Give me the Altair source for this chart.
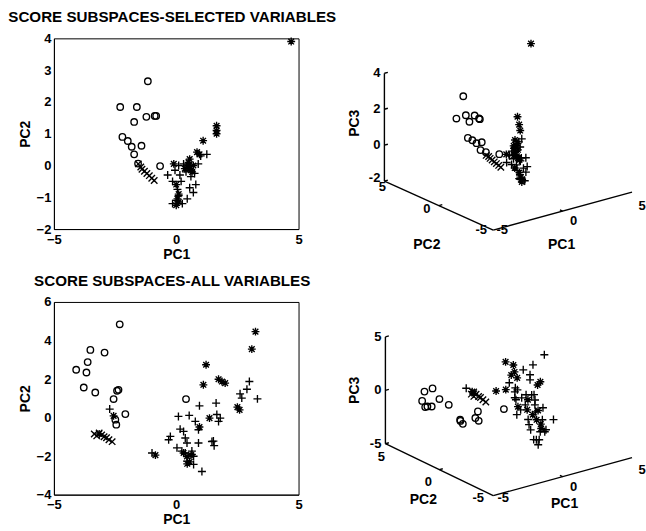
import altair as alt
import pandas as pd

# ---------------- SCORE SUBSPACES - SELECTED VARIABLES ----------------
sel_o_pc1 = [-1.16, -2.29, -1.61, -1.72, -1.22, -0.88, -0.82, -2.20, -1.98, -1.82, -1.42, -1.72, -1.56, -0.66]
sel_o_pc2 = [2.65, 1.84, 1.84, 1.37, 1.53, 1.56, 1.56, 0.90, 0.77, 0.59, 0.62, 0.35, 0.06, -0.02]
sel_o_pc3 = [2.55, 1.77, 1.81, 1.60, 1.80, 1.55, 1.50, 0.93, 0.79, 0.64, 0.60, 0.30, 0.23, -0.05]

sel_x_pc1 = [-1.55, -1.45, -1.40, -1.30, -1.20, -1.10, -1.00, -0.90]
sel_x_pc2 = [0.05, -0.05, -0.12, -0.18, -0.25, -0.32, -0.40, -0.47]
sel_x_pc3 = [0.05, 0.00, -0.10, -0.20, -0.30, -0.40, -0.50, -0.60]

sel_p_pc1 = [-0.35, -0.15, -0.05, 0.10, 0.30, 0.20, 0.05, 0.10, -0.15, 0.45, 0.70,
             0.80, 0.75, 0.90, 1.00, 1.25, 0.60, 0.40, 0.00, 0.25, 0.55, 0.15]
sel_p_pc2 = [-0.30, -0.50, -0.15, 0.00, 0.05, -0.50, -0.75, -0.95, -1.20, -1.05, -0.85,
             -0.60, -0.25, 0.05, 0.30, 0.35, -0.35, -0.20, -1.10, -1.20, -0.70, -0.30]
sel_p_pc3 = [-0.50, -0.60, -0.20, -0.30, -0.10, -0.70, -0.90, -1.10, -1.20, -1.00, -0.80,
             -0.40, -0.50, 0.00, 0.20, 0.30, -0.60, -0.30, -1.30, -1.40, -0.90, -0.40]

sel_s_pc1 = [4.70, 1.65, 1.65, 1.65, 1.10, 0.85, 0.95, 0.50, 0.55, 0.60, 0.45,
             0.70, 0.65, 0.35, -0.10, 0.05, 0.10, 0.00, 0.10, 0.00, 0.50, 0.55]
sel_s_pc2 = [3.90, 1.25, 1.10, 1.00, 0.78, 0.42, 0.35, 0.00, -0.10, -0.15, -0.05,
             0.00, -0.20, -0.10, 0.05, -1.05, -1.15, -1.25, -0.90, -0.60, 0.10, 0.20]
sel_s_pc3 = [3.90, 1.20, 0.80, 0.50, 0.15, -0.10, 0.10, -0.20, -0.40, -0.50, -0.30,
             -0.10, -0.60, -0.30, -0.20, -1.20, -1.30, -1.40, -1.00, -0.80, 0.00, 0.10]

# ---------------- SCORE SUBSPACES - ALL VARIABLES ----------------
all_o_pc1 = [-2.31, -3.51, -2.93, -3.62, -4.09, -3.67, -3.78, -3.31, -2.42, -2.36, -2.56, -2.08, -2.49, -2.45, 0.40]
all_o_pc2 = [4.84, 3.51, 3.37, 2.88, 2.48, 2.34, 1.56, 1.30, 1.39, 1.44, 0.96, 0.18, -0.11, -0.37, 0.96]
all_o_pc3 = [-1.00, -0.80, -1.46, -0.97, -0.67, 1.00, 0.42, -0.16, -1.92, -2.07, -2.04, -0.67, -1.00, -1.15, -1.71]

all_x_pc1 = [-3.35, -3.25, -3.15, -3.05, -2.95, -2.85, -2.75, -2.62]
all_x_pc2 = [-0.85, -0.95, -0.80, -0.90, -1.00, -1.05, -1.15, -1.25]
all_x_pc3 = [1.90, 1.70, 2.00, 1.80, 1.60, 1.50, 1.30, 1.10]

all_p_pc1 = [-2.72, 2.99, 2.89, 3.32, 2.61, 2.68, 1.63, 0.95, 0.09, 0.53, 0.78, 0.91,
             1.66, 1.80, 1.73, 0.30, -0.24, -0.31, 0.37, 0.44, 0.91, 1.46, 1.55, 0.03,
             0.23, 0.64, 0.71, 1.05, -0.99, 0.16, 0.37, 0.64, 0.44, 0.71, 1.52]
all_p_pc2 = [0.44, 1.87, 1.47, 0.97, 1.23, 1.01, 0.75, 0.61, 0.06, 0.11, -0.20, -0.63,
             0.16, -0.03, -0.20, -0.72, -0.98, -1.15, -1.06, -1.32, -1.32, -1.24, -1.46, -1.57,
             -1.74, -1.74, -2.01, -2.80, -1.84, -0.60, -1.84, -1.91, -2.26, -2.43, -1.22]
all_p_pc3 = [1.60, -0.34, 1.30, 2.33, -1.30, -1.70, 1.63, 0.25, 1.30, 0.27, -0.23, -2.10,
             1.44, -0.38, -1.22, -0.93, 0.33, -0.96, -0.32, -2.08, -1.04, -2.02, -2.88, 0.99,
             -2.28, -3.36, -2.50, -1.10, 1.20, 0.93, -3.20, -3.74, -3.03, -2.30, -0.93]

all_s_pc1 = [3.24, 3.09, 1.22, 1.73, 1.87, 2.00, 1.11, 2.50, 2.59, 1.36, 0.95,
             0.30, 0.44, 0.55, 0.45, 0.60, -0.85, -2.56, -3.15]
all_s_pc2 = [4.46, 3.55, 2.74, 1.99, 1.87, 1.79, 1.70, 0.54, 0.40, -0.03, -0.49,
             -1.84, -2.02, -2.30, -2.40, -1.95, -1.95, 0.09, -0.85]
all_s_pc3 = [0.00, 0.20, -1.18, 0.50, 0.80, 0.24, -0.50, 0.00, 0.34, -0.70, -1.27,
             -0.84, -1.28, -2.00, -1.50, -0.50, 0.37, 1.40, 1.90]

# ---------------- marker styles ----------------
GROUPS = ["o", "x", "+", "*"]
SHAPES = ["circle",
          "M-1,-1L1,1M-1,1L1,-1",
          "M-1,0L1,0M0,-1L0,1",
          "M-1,0L1,0M0,-1L0,1M-0.72,-0.72L0.72,0.72M-0.72,0.72L0.72,-0.72"]
SIZES = [42, 42, 64, 62]
FONT = "Liberation Sans"


def make_frame(groups):
    rows = []
    for g, (a, b, c) in groups.items():
        for i in range(len(a)):
            rows.append({"grp": g, "pc1": a[i], "pc2": b[i], "pc3": c[i]})
    return pd.DataFrame(rows)


sel_df = make_frame({"o": (sel_o_pc1, sel_o_pc2, sel_o_pc3), "x": (sel_x_pc1, sel_x_pc2, sel_x_pc3),
                     "+": (sel_p_pc1, sel_p_pc2, sel_p_pc3), "*": (sel_s_pc1, sel_s_pc2, sel_s_pc3)})
all_df = make_frame({"o": (all_o_pc1, all_o_pc2, all_o_pc3), "x": (all_x_pc1, all_x_pc2, all_x_pc3),
                     "+": (all_p_pc1, all_p_pc2, all_p_pc3), "*": (all_s_pc1, all_s_pc2, all_s_pc3)})


def point_layers(df, x_enc, y_enc):
    layers = []
    for g, shp, sz in zip(GROUPS, SHAPES, SIZES):
        layers.append(
            alt.Chart(df).transform_filter(alt.datum.grp == g)
            .mark_point(shape=shp, size=sz, filled=False, color="black",
                        strokeWidth=1.35, opacity=1)
            .encode(x=x_enc, y=y_enc)
        )
    return layers


def panel2d(df, ydom, yticks, title, height):
    x_enc = alt.X("pc1:Q", scale=alt.Scale(domain=[-5, 5], nice=False, zero=False),
                  axis=alt.Axis(values=[-5, 0, 5], title="PC1", labelFlush=False, format="d",
                                labelPadding=4, titlePadding=1))
    y_enc = alt.Y("pc2:Q", scale=alt.Scale(domain=ydom, nice=False, zero=False),
                  axis=alt.Axis(values=yticks, title="PC2", format="d", titlePadding=4))
    return alt.layer(*point_layers(df, x_enc, y_enc)).properties(
        width=245, height=height, title=alt.TitleParams(title, dx=-4))


# ---- 3-D view (MATLAB-like oblique projection, screen pixel space) ----
def project(v, a, b, c):
    sx = v["cx"] + v["e1"][0] * (a + 5) + v["e2"][0] * (5 - b)
    sy = v["cy"] + v["e1"][1] * (a + 5) + v["e2"][1] * (5 - b) - v["e3"] * (c - v["zlim"][0])
    return sx, sy


def panel3d(df, v):
    xs = alt.Scale(domain=list(v["xdom"]), nice=False, zero=False)
    ys = alt.Scale(domain=list(v["ydom"]), nice=False, zero=False, reverse=True)
    x_enc = alt.X("sx:Q", scale=xs, axis=None)
    y_enc = alt.Y("sy:Q", scale=ys, axis=None)

    d = df.copy()
    d["sx"], d["sy"] = project(v, d["pc1"], d["pc2"], d["pc3"])

    z0, z1 = v["zlim"]
    segs = [((-5, 5, z0), (-5, 5, z1)), ((-5, 5, z0), (-5, -5, z0)), ((-5, -5, z0), (5, -5, z0))]
    tick_segs = [((-5, 5, z), (-4.75, 5, z)) for z in v["zticks"]]
    tick_segs += [((-5, 0, z0), (-4.75, 0, z0)), ((0, -5, z0), (0, -4.75, z0))]
    rows = []
    for p, q in segs + tick_segs:
        x1, y1 = project(v, *p)
        x2, y2 = project(v, *q)
        rows.append({"sx": x1, "sy": y1, "sx2": x2, "sy2": y2})
    lines_df = pd.DataFrame(rows)

    lines = alt.Chart(lines_df).mark_rule(color="black", strokeWidth=1.4).encode(
        x=x_enc, y=y_enc, x2="sx2:Q", y2="sy2:Q")

    # tick labels
    lab_rows_c = []
    for val in [-5, 0, 5]:
        x, y = project(v, -5, val, z0)
        dx, dy = v["pc2_off"][val]
        lab_rows_c.append({"sx": x + dx, "sy": y + dy, "t": str(val)})
        x, y = project(v, val, -5, z0)
        dx, dy = v["pc1_off"][val]
        lab_rows_c.append({"sx": x + dx, "sy": y + dy, "t": str(val)})
    lab_rows_r = []
    for val in v["zticks"]:
        x, y = project(v, -5, 5, val)
        dy = v["pc3_dy"].get(val, 0)
        lab_rows_r.append({"sx": x - 4, "sy": y + dy, "t": str(val)})
    x, y = project(v, -5, 0, z0)
    title_rows = [{"sx": x + v["t2"][0], "sy": y + v["t2"][1], "t": "PC2"}]
    x, y = project(v, 0, -5, z0)
    title_rows.append({"sx": x + v["t1"][0], "sy": y + v["t1"][1], "t": "PC1"})
    x, y = project(v, -5, 5, (z0 + z1) / 2)
    t3_rows = [{"sx": x + v["t3"][0], "sy": y + v["t3"][1], "t": "PC3"}]

    txt_c = alt.Chart(pd.DataFrame(lab_rows_c)).mark_text(
        font=FONT, fontSize=13, fontWeight="bold", color="black", align="center", baseline="middle"
    ).encode(x=x_enc, y=y_enc, text="t:N")
    txt_r = alt.Chart(pd.DataFrame(lab_rows_r)).mark_text(
        font=FONT, fontSize=13, fontWeight="bold", color="black", align="right", baseline="middle"
    ).encode(x=x_enc, y=y_enc, text="t:N")
    ttl = alt.Chart(pd.DataFrame(title_rows)).mark_text(
        font=FONT, fontSize=14, fontWeight="bold", color="black", align="center", baseline="middle"
    ).encode(x=x_enc, y=y_enc, text="t:N")
    ttl3 = alt.Chart(pd.DataFrame(t3_rows)).mark_text(
        font=FONT, fontSize=14, fontWeight="bold", color="black", align="center", baseline="middle", angle=270
    ).encode(x=x_enc, y=y_enc, text="t:N")

    layers = [lines, txt_c, txt_r, ttl, ttl3] + point_layers(d, x_enc, y_enc)
    w = v["xdom"][1] - v["xdom"][0]
    h = v["ydom"][1] - v["ydom"][0]
    return alt.layer(*layers).properties(width=w, height=h,
                                         view=alt.ViewBackground(strokeOpacity=0))


VIEW_SEL = dict(cx=384, cy=181, e1=(13.9, -3.8), e2=(10.9, 4.9), e3=18.0, zlim=(-2, 4),
                zticks=[-2, 0, 2, 4], xdom=(330, 646), ydom=(38, 229),
                pc2_off={5: (-2, 6), 0: (-12, 3), -5: (-12, 0)},
                pc1_off={-5: (9, 0), 0: (11, 10), 5: (10, 14)},
                pc3_dy={-2: -3},
                t2=(-12, 39), t1=(-1, 34), t3=(-29, -4))
VIEW_ALL = dict(cx=385, cy=444, e1=(13.9, -3.8), e2=(10.8, 5.2), e3=10.7, zlim=(-5, 5),
                zticks=[-5, 0, 5], xdom=(330, 646), ydom=(302, 495),
                pc2_off={5: (-4, 13), 0: (-11, 12), -5: (-15, 2)},
                pc1_off={-5: (10, 2), 0: (11, 10), 5: (10, 12)},
                pc3_dy={},
                t2=(-16, 30), t1=(2, 27), t3=(-30, 0))

top_left = panel2d(sel_df, [-2, 4], [-2, -1, 0, 1, 2, 3, 4], "SCORE SUBSPACES-SELECTED VARIABLES", 191)
bot_left = panel2d(all_df, [-4, 6], [-4, -2, 0, 2, 4, 6], "SCORE SUBSPACES-ALL VARIABLES", 193)
top_right = panel3d(sel_df, VIEW_SEL)
bot_right = panel3d(all_df, VIEW_ALL)

chart = alt.concat(
    top_left, top_right, bot_left, bot_right,
    columns=2, spacing=alt.RowColnumber(column=32, row=73), bounds="flush",
).properties(
    padding={"left": 7, "top": 9, "right": 0, "bottom": 0}
).configure(font=FONT).configure_view(
    stroke="black", strokeWidth=1
).configure_axis(
    labelFont=FONT, labelFontSize=13, labelFontWeight="bold", labelColor="black",
    titleFont=FONT, titleFontSize=14, titleFontWeight="bold", titleColor="black",
    domainColor="black", domainWidth=1, ticks=False, grid=False,
    labelPadding=3, labelOverlap=False
).configure_title(
    font=FONT, fontSize=15.2, fontWeight="bold", color="black", anchor="middle",
    offset=7, baseline="alphabetic"
)

chart.save("out.html", embed_options={"renderer": "svg", "actions": False})
